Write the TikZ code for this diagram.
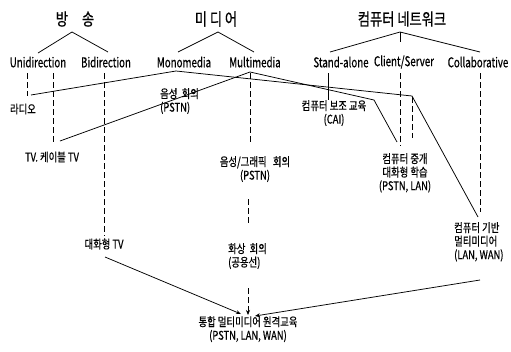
\documentclass[tikz,border=0pt]{standalone}
\usepackage{fontspec}
\setmainfont[FakeStretch=0.78,FakeBold=0.6]{Noto Sans CJK KR}
\newfontfamily\catfont[FakeStretch=0.72,FakeBold=0.6]{Noto Sans CJK KR}
\usetikzlibrary{arrows.meta}
\begin{document}
\begin{tikzpicture}[x=1pt,y=-1pt,
  lbl/.style={inner sep=0pt, font=\fontsize{12}{13.5}\selectfont, align=center},
  lbll/.style={inner sep=0pt, font=\fontsize{12}{13.5}\selectfont, align=left},
  head/.style={inner sep=0pt, font=\fontsize{17}{19}\selectfont},
  cat/.style={inner sep=0pt, font=\catfont\fontsize{13.5}{15}\selectfont},
  ln/.style={line width=0.75pt},
  dl/.style={line width=0.75pt, dash pattern=on 6pt off 3pt},
  arr/.style={line width=0.75pt, -{Stealth[length=5pt,width=4pt]}}]
\useasboundingbox (0,0) rectangle (511,351);
% headers
\node[head] (h1) at (75,19) {방\hspace{14pt}송};
\node[head] (h2) at (216,19) {미\,디\,어};
\node[head] (h3) at (402,19) {컴퓨터 네트워크};
% categories
\node[cat] (u)  at (38,62)  {Unidirection};
\node[cat] (b)  at (106,62) {Bidirection};
\node[cat] (mo) at (184,62) {Monomedia};
\node[cat] (mu) at (255,62) {Multimedia};
\node[cat] (sa) at (341,62) {Stand-alone};
\node[cat] (cs) at (404,62) {Client/Server};
\node[cat] (co) at (478,62) {Collaborative};
% leaves
\node[lbl] (radio) at (23,109) {라디오};
\node[lbl] (tv) at (52,157) {TV.\ 케이블 TV};
\node[lbl] (itv) at (104,244) {대화형 TV};
\node[lbll, anchor=north west] (voice) at (160,88) {음성\ \ 회의\\(PSTN)};
\node[lbl, anchor=north] (vg) at (255,156) {음성/그래픽\ \ \ 회의\\(PSTN)};
\node[lbll, anchor=north west] (video) at (228,243) {화상\ \ 회의\\(공용선)};
\node[lbl, anchor=north] (cai) at (334,100) {컴퓨터 보조 교육\\(CAI)};
\node[lbl, anchor=north] (cmc) at (405,153) {컴퓨터 중개\\대화형 학습\\(PSTN,\ LAN)};
\node[lbll, anchor=north west] (cbm) at (454,222) {컴퓨터 기반\\멀티미디어\\(LAN,\ WAN)};
\node[lbl, anchor=north] (fin) at (248,316) {통합 멀티미디어 원격교육\\(PSTN, LAN, WAN)};
% tree coordinates
\coordinate (a1) at (72,32);
\coordinate (a1l) at (38,53);
\coordinate (a1r) at (108,52);
\coordinate (a2) at (218,32);
\coordinate (a2l) at (178,52);
\coordinate (a2r) at (254,52);
\coordinate (a3) at (400,32);
\coordinate (a3l) at (330,52);
\coordinate (a3m) at (400,42);
\coordinate (a3r) at (480,52);
\draw[ln] (a1l) -- (a1) -- (a1r);
\draw[ln] (a2l) -- (a2) -- (a2r);
\draw[ln] (a3l) -- (a3) -- (a3r);
\draw[ln] (a3) -- (a3m);
% vertical connectors
\coordinate (v1a) at (27,73); \coordinate (v1b) at (27,96);
\coordinate (v2a) at (53,73); \coordinate (v2b) at (53,143);
\coordinate (v3a) at (104,73); \coordinate (v3b) at (104,236);
\coordinate (v4a) at (250,73); \coordinate (v4b) at (250,143);
\coordinate (v5a) at (248,199); \coordinate (v5b) at (248,226);
\coordinate (v6a) at (248,288); \coordinate (v6b) at (248,315);
\coordinate (v7a) at (328,73); \coordinate (v7b) at (328,100);
\coordinate (v8a) at (400,73); \coordinate (v8b) at (400,146);
\coordinate (v9a) at (412,97); \coordinate (v9b) at (412,138);
\coordinate (v10a) at (480,73); \coordinate (v10b) at (480,212);
\draw[dl] (v1a) -- (v1b);
\draw[dl] (v2a) -- (v2b);
\draw[dl] (v3a) -- (v3b);
\draw[dl] (v4a) -- (v4b);
\draw[dl] (v5a) -- (v5b);
\draw[dl,-{Stealth[length=5pt,width=4pt]}] (v6a) -- (v6b);
\draw[ln] (v7a) -- (v7b);
\draw[dl] (v8a) -- (v8b);
\draw[dl] (v9a) -- (v9b);
\draw[dl] (v10a) -- (v10b);
% crossing lines
\coordinate (la0) at (31,95);
\coordinate (la1) at (176,71);
\coordinate (la2) at (412,96);
\coordinate (la3) at (478,217);
\draw[ln] (la0) -- (la1) -- (la2) -- (la3);
\coordinate (lb0) at (60,141);
\coordinate (lb1) at (250,72);
\coordinate (lb2) at (374,100);
\coordinate (lb3) at (397,142);
\draw[ln] (lb0) -- (lb1) -- (lb2) -- (lb3);
% arrows to final
\coordinate (t1) at (105,257);
\coordinate (t2) at (241,314);
\coordinate (t3) at (480,280);
\coordinate (t4) at (255,316);
\draw[arr] (t1) -- (t2);
\draw[arr] (t3) -- (t4);
\end{tikzpicture}
\end{document}
